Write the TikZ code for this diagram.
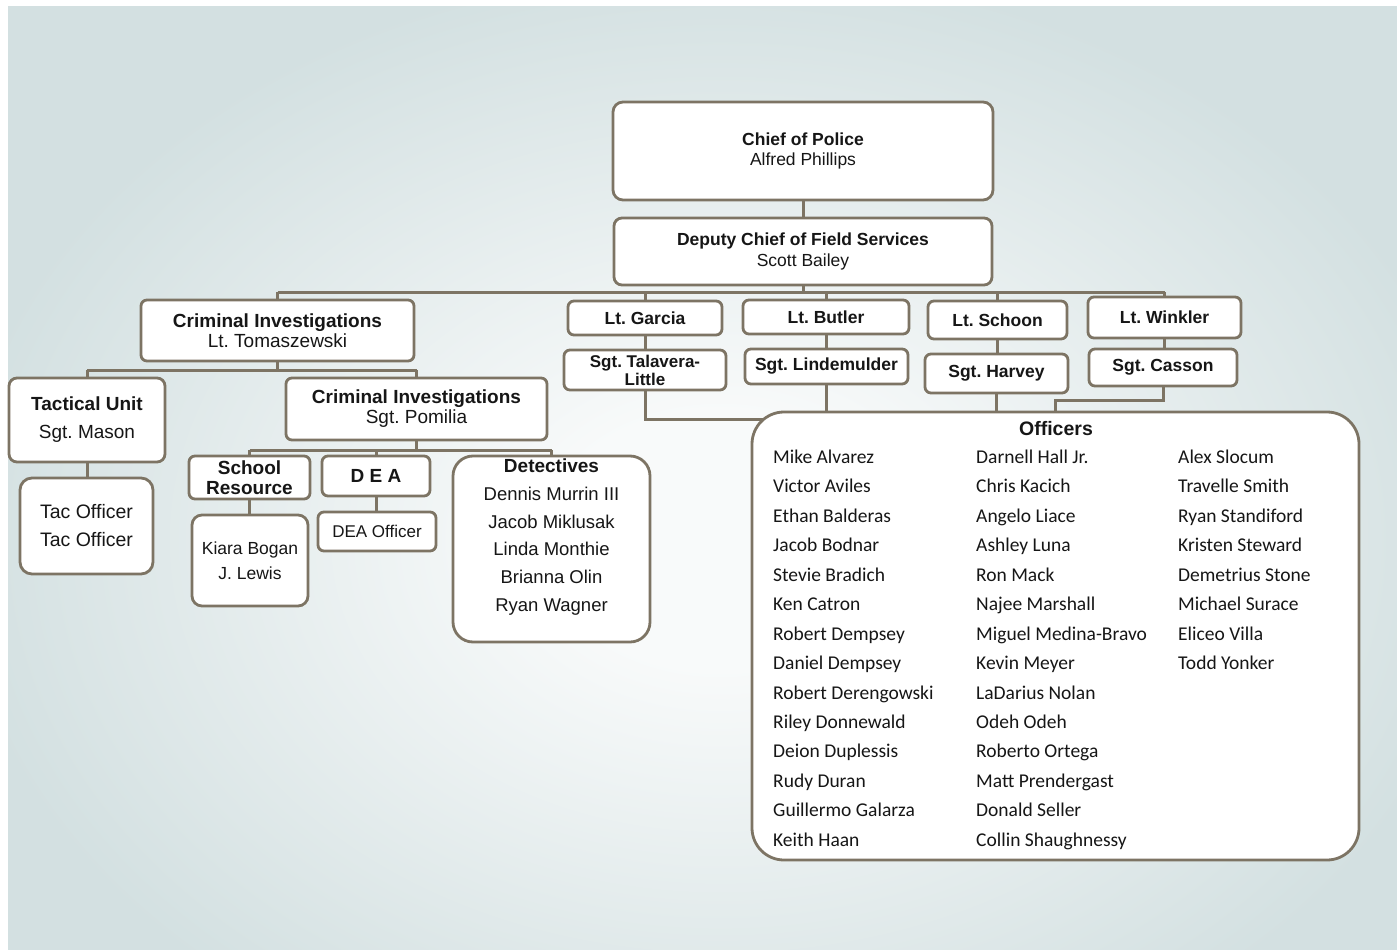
\documentclass[tikz,border=0pt]{standalone}
\usepackage{fontspec}
\setmainfont{Liberation Sans}
\newfontfamily\calfont{Carlito}
\frenchspacing
\definecolor{lc}{RGB}{125,116,100}
\definecolor{bgin}{RGB}{248,250,250}
\definecolor{bgout}{RGB}{211,224,225}
\definecolor{tx}{RGB}{22,22,22}
\pgfdeclareradialshading{bgrad}{\pgfpoint{0bp}{0bp}}{color(0bp)=(bgin); color(6bp)=(bgin); color(27bp)=(bgout); color(50bp)=(bgout)}
\pgfdeclarelayer{bg}
\pgfdeclarelayer{edges}
\pgfsetlayers{bg,edges,main}
\tikzset{
  box/.style={draw=lc, line width=2.8pt, fill=white, rounded corners=6pt, inner sep=0pt, align=center, text=tx},
  conn/.style={draw=lc, line width=3pt},
  fa/.style={font=\fontsize{17.5}{20}\selectfont},
  fb/.style={font=\fontsize{19}{20}\selectfont},
  oname/.style={anchor=base west, inner sep=0pt, text=tx, font=\calfont\fontsize{19.5}{20}\selectfont},
}
\begin{document}
\begin{tikzpicture}[x=1pt,y=-1pt]
\useasboundingbox (0,0) rectangle (1397,950);
\begin{pgfonlayer}{bg}
  \begin{scope}
    \clip (8,7) rectangle (1397,950);
    \shade[shading=bgrad] (8,7) rectangle (1432,1073);
  \end{scope}
\end{pgfonlayer}

% top
\node[box, fa, rounded corners=10pt, minimum width=380pt, minimum height=98pt] (chief) at (803,151) {{\bfseries Chief of Police}\\Alfred Phillips};
\node[box, fa, rounded corners=8pt, font=\fontsize{17.5}{21}\selectfont, minimum width=378pt, minimum height=67pt] (deputy) at (803,251.5) {{\bfseries Deputy Chief of Field Services}\\Scott Bailey};

% lieutenants
\node[box, fb, minimum width=273pt, minimum height=61pt] (cilt) at (277.5,330.5) {{\bfseries Criminal Investigations}\\Lt. Tomaszewski};
\node[box, fa, minimum width=154pt, minimum height=34pt] (garcia) at (645,318) {\bfseries Lt. Garcia};
\node[box, fa, minimum width=166pt, minimum height=34pt] (butler) at (826,317) {\bfseries Lt. Butler};
\node[box, fa, minimum width=139pt, minimum height=38pt] (schoon) at (997.5,320) {\bfseries Lt. Schoon};
\node[box, fa, minimum width=153pt, minimum height=41pt] (winkler) at (1164.5,317.5) {\bfseries Lt. Winkler};

% sergeants
\node[box, font=\bfseries\fontsize{17}{18}\selectfont, minimum width=162pt, minimum height=40pt] (tal) at (645,370) {Sgt. Talavera-\\Little};
\node[box, fa, minimum width=163pt, minimum height=35pt] (lind) at (826.5,366.5) {\bfseries Sgt. Lindemulder};
\node[box, fa, minimum width=143pt, minimum height=39pt] (harv) at (996.5,373.5) {\bfseries Sgt. Harvey};
\node[box, fa, minimum width=148pt, minimum height=37pt] (cas) at (1163,367.5) {\bfseries Sgt. Casson};

% criminal investigations subtree
\node[box, font=\fontsize{19}{28}\selectfont, rounded corners=8pt, minimum width=156pt, minimum height=84pt] (tact) at (87,420) {{\bfseries Tactical Unit}\\Sgt. Mason};
\node[box, font=\fontsize{19.5}{28}\selectfont, rounded corners=12pt, minimum width=133pt, minimum height=96pt] (tacoff) at (86.5,526) {Tac Officer\\Tac Officer};
\node[box, fb, minimum width=261pt, minimum height=62pt] (cisgt) at (416.5,409) {{\bfseries Criminal Investigations}\\Sgt. Pomilia};
\node[box, font=\bfseries\fontsize{19}{20}\selectfont, minimum width=121pt, minimum height=43pt] (school) at (249.5,477.5) {School\\Resource};
\node[box, font=\bfseries\fontsize{19}{20}\selectfont, minimum width=108pt, minimum height=40pt] (dea) at (376,476) {D E A};
\node[box, rounded corners=20pt, minimum width=197pt, minimum height=186pt] (det) at (551.5,549) {};
\node[inner sep=0pt, align=center, text=tx, font=\fontsize{18.5}{27.8}\selectfont] (dettxt) at (551.5,537) {{\bfseries\fontsize{19}{27.8}\selectfont Detectives}\\Dennis Murrin III\\Jacob Miklusak\\Linda Monthie\\Brianna Olin\\Ryan Wagner};
\node[box, font=\fontsize{17.5}{25}\selectfont, rounded corners=10pt, minimum width=116pt, minimum height=91pt] (kiara) at (250,560.5) {Kiara Bogan\\J. Lewis};
\node[box, font=\fontsize{17}{20}\selectfont, minimum width=118pt, minimum height=39pt] (deaoff) at (377,531.5) {DEA Officer};

% officers
\node[box, rounded corners=32pt, minimum width=607pt, minimum height=448pt] (off) at (1055.5,636) {};
\node[inner sep=0pt, text=tx, font=\bfseries\fontsize{19.5}{20}\selectfont] (offtitle) at (1056,429) {Officers};
\foreach \n [count=\i] in {Mike Alvarez,Victor Aviles,Ethan Balderas,Jacob Bodnar,Stevie Bradich,Ken Catron,Robert Dempsey,Daniel Dempsey,Robert Derengowski,Riley Donnewald,Deion Duplessis,Rudy Duran,Guillermo Galarza,Keith Haan}
  \node[oname] (oa\i) at (773,434+29.45*\i) {\n};
\foreach \n [count=\i] in {Darnell Hall Jr.,Chris Kacich,Angelo Liace,Ashley Luna,Ron Mack,Najee Marshall,Miguel Medina-Bravo,Kevin Meyer,LaDarius Nolan,Odeh Odeh,Roberto Ortega,Matt Prendergast,Donald Seller,Collin Shaughnessy}
  \node[oname] (ob\i) at (976,434+29.45*\i) {\n};
\foreach \n [count=\i] in {Alex Slocum,Travelle Smith,Ryan Standiford,Kristen Steward,Demetrius Stone,Michael Surace,Eliceo Villa,Todd Yonker}
  \node[oname] (oc\i) at (1178,434+29.45*\i) {\n};

% connectors
\begin{pgfonlayer}{edges}
  \coordinate (bus) at (0,292);
  \coordinate (b2) at (0,370);
  \coordinate (b3) at (0,450);
  \coordinate (tj) at (790,419);
  \coordinate (cj) at (1055,400);
  \draw[conn] (chief.south) -- (deputy.north);
  \draw[conn] (deputy.south) -- (deputy.south |- bus);
  \draw[conn] (cilt.north |- bus) -- (winkler.north |- bus);
  \foreach \n in {cilt,garcia,butler,schoon,winkler}
    \draw[conn] (\n.north |- bus) -- (\n.north);
  \draw[conn] (garcia.south) -- (garcia.south |- tal.north);
  \draw[conn] (butler.south) -- (butler.south |- lind.north);
  \draw[conn] (schoon.south) -- (schoon.south |- harv.north);
  \draw[conn] (winkler.south) -- (winkler.south |- cas.north);
  \draw[conn] (tal.south) |- (tj);
  \draw[conn] (lind.south) -- (lind.south |- off.north);
  \draw[conn] (harv.south) -- (harv.south |- off.north);
  \draw[conn] (cas.south) |- (cj) -- (cj |- off.north);
  \draw[conn] (cilt.south) -- (cilt.south |- b2);
  \draw[conn] (tact.north |- b2) -- (cisgt.north |- b2);
  \draw[conn] (tact.north |- b2) -- (tact.north);
  \draw[conn] (cisgt.north |- b2) -- (cisgt.north);
  \draw[conn] (tact.south) -- (tact.south |- tacoff.north);
  \draw[conn] (cisgt.south) -- (cisgt.south |- b3);
  \draw[conn] (school.north |- b3) -- (det.north |- b3);
  \foreach \n in {school,dea,det}
    \draw[conn] (\n.north |- b3) -- (\n.north);
  \draw[conn] (school.south) -- (school.south |- kiara.north);
  \draw[conn] (dea.south) -- (dea.south |- deaoff.north);
\end{pgfonlayer}
\end{tikzpicture}
\end{document}
